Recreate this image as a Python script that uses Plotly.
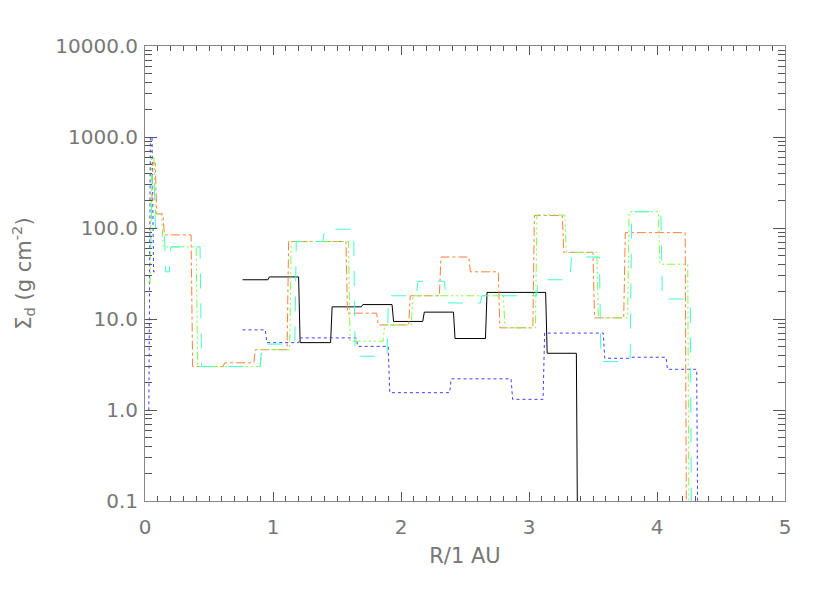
import plotly.graph_objects as go

# step edges (R in AU) and surface density values for each curve
# None in a value list means no curve is drawn over that step
black_edges = [0.75, 0.96, 1.2, 1.45, 1.69, 1.93, 2.17, 2.41, 2.66, 3.13, 3.37]
black_vals = [27, 29, 5.5, 13.6, 14.4, 9.4, 11.9, 6.1, 19.6, 4.2, 0.01]

blue_edges = [0.015, 0.03, 0.055, 0.09, 0.75, 0.94, 1.2, 1.65, 1.90, 2.38, 2.86, 3.11, 3.58, 3.78, 4.07, 4.31]
blue_vals = [1.0, 1000, 33, None, 7.6, 5.5, 6.2, 5.0, 1.55, 2.2, 1.31, 7.0, 3.7, 3.8, 2.8, 0.01]

red_edges = [0.02, 0.05, 0.08, 0.14, 0.36, 0.61, 0.85, 1.11, 1.57, 1.81, 2.06, 2.30, 2.53, 2.76, 3.03, 3.26, 3.50, 3.74, 4.22]
red_vals = [130, 520, 143, 84, 3.0, 3.3, 4.6, 71, 11.6, 8.6, 18, 48, 33, 8.0, 137, 54, 10.3, 89, 0.01]

green_edges = [0.01, 0.04, 0.07, 0.13, 0.40, 0.90, 1.13, 1.59, 1.86, 2.08, 2.80, 3.05, 3.28, 3.53, 3.77, 4.01, 4.24]
green_vals = [25, 600, 143, 62, 3.0, 4.6, 71, 5.7, 8.6, 18, 8.0, 139, 54, 10.3, 151, 40, 0.01]

cyan_edges = [0.02, 0.045, 0.07, 0.15, 0.19, 0.43, 0.90, 1.17, 1.39, 1.63, 1.89, 2.12, 2.34, 2.62, 3.06, 3.32, 3.55, 3.79, 4.03, 4.26]
cyan_vals = [60, 400, 100, 33, 62, 3.0, 5.3, 71, 97, 3.9, 18, 26, 15, 18, 27, 48, 3.4, 151, 16.6, 0.01]

ytick_vals = [0.1, 1, 10, 100, 1000, 10000]
ytick_text = ["0.1", "1.0", "10.0", "100.0", "1000.0", "10000.0"]
xtick_vals = [0, 1, 2, 3, 4, 5]


def steps(edges, vals, ramp=0.012):
    # hold each value across its step, with a short slanted move between steps
    xs, ys = [], []
    for i, v in enumerate(vals):
        x0 = edges[i]
        x1 = edges[i + 1] if i + 1 < len(edges) else x0 + ramp
        if v is None:
            xs.append(None)
            ys.append(None)
            continue
        xs += [x0 + ramp, x1]
        ys += [v, v]
    return xs, ys


curves = [
    (black_edges, black_vals, "#000000", "solid"),
    (blue_edges, blue_vals, "#3f3fff", "dot"),
    (red_edges, red_vals, "#ff7f3f", "dashdot"),
    (green_edges, green_vals, "#7fff3f", "8px,3px,2px,3px,2px,3px,2px,3px"),
    (cyan_edges, cyan_vals, "#3fffd0", "longdash"),
]

fig = go.Figure()
for edges, vals, color, dash in curves:
    xs, ys = steps(edges, vals)
    fig.add_trace(go.Scatter(x=xs, y=ys, mode="lines", connectgaps=False,
                             line=dict(color=color, width=1, dash=dash),
                             showlegend=False))

tick_font = dict(family="DejaVu Sans", size=20, color="#777777")
title_font = dict(family="DejaVu Sans", size=21, color="#777777")
axis_style = dict(showline=True, linecolor="#888888", linewidth=1, mirror="allticks",
                  ticks="inside", tickcolor="#555555", showgrid=False, zeroline=False,
                  automargin=False, tickfont=tick_font)

fig.update_xaxes(range=[0, 5], tickvals=xtick_vals, ticklen=9, ticklabelstandoff=8,
                 minor=dict(dtick=0.1, ticks="inside", ticklen=5, tickcolor="#555555"),
                 title=dict(text="R/1 AU", font=title_font, standoff=10),
                 **axis_style)
fig.update_yaxes(type="log", range=[-1, 4], tickvals=ytick_vals, ticktext=ytick_text, ticklen=12,
                 ticklabelstandoff=2,
                 minor=dict(dtick="D1", ticks="inside", ticklen=7, tickcolor="#555555"),
                 title=dict(text="Σ<sub>d</sub> (g cm<sup>-2</sup>)", font=title_font, standoff=22),
                 **axis_style)

# the page body adds 8px around the figure
fig.update_layout(width=822, height=585, plot_bgcolor="white", paper_bgcolor="white",
                  font=tick_font,
                  margin=dict(l=137, r=45, t=38, b=92))

fig.write_html("out.html")
